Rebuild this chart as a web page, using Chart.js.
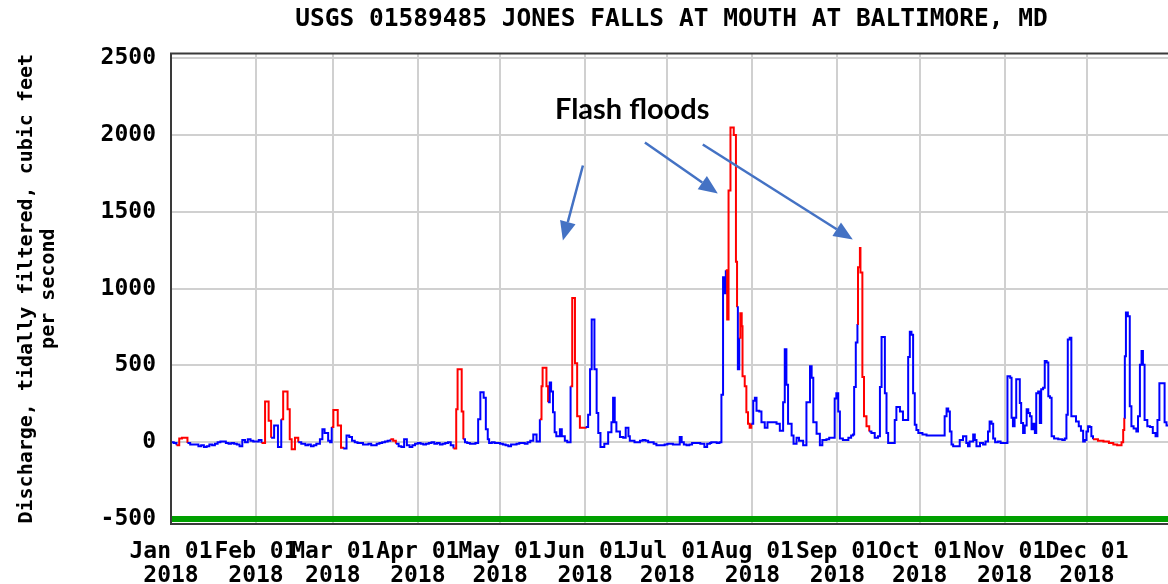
<!DOCTYPE html>
<html>
<head>
<meta charset="utf-8">
<title>Jones Falls discharge 2018</title>
<script src="https://cdn.jsdelivr.net/npm/chart.js@4.4.1/dist/chart.umd.min.js"></script>
<style>
  html, body { margin: 0; padding: 0; background: #fff; overflow: hidden; }
  #wrap { position: relative; width: 1180px; height: 584px; }
</style>
</head>
<body>
<div id="wrap"><canvas id="chart"></canvas></div>
<script>
const chartTitle = "USGS 01589485 JONES FALLS AT MOUTH AT BALTIMORE, MD";
const yTitle = ["Discharge, tidally filtered, cubic feet", "per second"];

// x ticks: first day of each month (day of year, 0 = Jan 1)
const monthStart = [0, 31, 59, 90, 120, 151, 181, 212, 243, 273, 304, 334];
const monthLabels = ["Jan", "Feb", "Mar", "Apr", "May", "Jun", "Jul", "Aug", "Sep", "Oct", "Nov", "Dec"];
const yearLabel = "2018";
const yTicks = [-500, 0, 500, 1000, 1500, 2000, 2500];

// discharge readings, day of year -> cfs (one line per month)
const days = [
  0, 1, 2, 3, 4, 5, 6, 7, 8, 9, 10, 11, 12, 13, 14, 15, 16, 17, 18, 19, 20, 21, 22, 23, 24, 25, 26, 27, 28, 29, 30,
  31, 32, 33, 34.3, 35.6, 36.5, 37.6, 39, 40.2, 40.9, 42.5, 43.3, 44, 45.2, 46.4, 47.5, 49, 50, 51, 52, 53, 54.3, 55.2, 56, 57.3, 58,
  58.6, 59.2, 60.8, 62, 62.8, 64, 65, 66, 67, 68, 69, 70, 71, 72, 73, 74, 75, 76, 77, 78, 79, 80, 81, 82, 83, 84, 85, 86, 87, 88, 89,
  90, 91, 92, 93, 94, 95, 96, 97, 98, 99, 100, 101, 102, 103, 104, 104.5, 106, 106.6, 107.2, 108, 109, 110, 111, 112, 112.8, 114, 114.8, 115.5, 116, 117, 118, 119,
  120, 121, 122, 123, 124, 125, 126, 127, 128, 129, 130, 131, 132.1, 133.3, 134.5, 135.1, 135.5, 136.9, 137.5, 138.1, 138.6, 139.3, 139.9, 140.5, 141.8, 142.5, 143.6, 144.5, 145.7, 146.3, 147.3, 148.1, 149.1,
  151.2, 152.1, 152.8, 153.4, 154.4, 155.2, 155.8, 156.6, 158, 159.4, 160.6, 161.2, 161.8, 162.4, 163.7, 164.9, 165.8, 166.8, 167.3, 169, 170, 171, 172, 173, 174, 175, 176, 177, 178, 179, 180,
  181, 182, 183, 184, 185.5, 186.2, 187, 188, 189, 190, 191, 192, 193, 194.5, 195.5, 196.5, 197, 198, 199, 200, 200.7, 201.3, 201.8, 202.3, 202.8, 203.3, 204, 205.2, 206, 206.4, 206.7, 207.2, 207.6, 208.1, 208.4, 209.2, 209.8, 210.4, 211, 211.6,
  212.3, 212.9, 213.5, 214.5, 215.3, 216.5, 217.5, 219, 220.8, 222, 223.2, 223.8, 224.4, 225, 226.3, 227, 228.1, 229, 230.5, 231.7, 233, 233.6, 234.2, 235.4, 236.6, 237.5, 239, 240, 241.4, 242, 242.6,
  243.3, 243.9, 245, 246, 247, 248, 248.7, 249.1, 249.7, 250.3, 250.5, 251.2, 251.4, 252.1, 252.7, 253.6, 254.6, 255.4, 256.6, 257.8, 258.5, 259.1, 260.3, 260.9, 261.5, 263.9, 264.5, 265.8, 266.9, 268.2, 268.8, 269.4, 270, 270.6, 271.2, 271.8, 272.5,
  273, 274, 275.5, 277, 279, 281.5, 282.1, 282.8, 283.4, 284, 284.6, 285.2, 287.6, 288.8, 290, 290.6, 291.2, 292.5, 293.1, 293.7, 295, 296.1, 297, 297.9, 298.5, 299.2, 299.8, 300.5, 301.5, 302.5,
  304, 305, 306, 306.5, 307, 307.6, 308.2, 309, 309.5, 310, 310.7, 311.3, 312, 312.6, 313.2, 313.8, 314.4, 315, 315.5, 316.2, 316.8, 317.3, 318, 318.6, 319.3, 319.9, 320.5, 321.1, 322, 323.5, 325, 325.9, 326.5, 327, 327.7, 328.3, 329, 330, 331, 331.8, 332.6, 333.2, 333.8,
  334.4, 335, 335.6, 336.2, 338, 340, 342, 343.6, 345, 346, 346.6, 347.2, 347.6, 347.8, 348.2, 348.9, 349.6, 350.2, 351, 352, 352.6, 353.3, 353.9, 354.4, 355, 356, 357, 358, 359, 359.7, 360.4, 361.5, 362.3, 363, 364, 365
];
const flow = [
  0, -5, -20, 25, 30, 30, -5, -15, -15, -15, -25, -20, -30, -25, -15, -20, -10, 0, 5, 5, -5, -10, -5, -10, -15, -25, 15, 0, 20, 10, 5,
  5, 15, -5, 265, 140, 30, 110, -30, 150, 330, 215, 20, -45, 30, 0, -10, -20, -15, -25, -20, -10, 20, 85, 60, 10, 0,
  100, 210, 110, -35, -40, 45, 35, 10, 0, -5, -5, -15, -15, -10, -20, -20, -10, -5, 0, 5, 10, 20, 10, -10, -25, -30, 20, -20, -30, -20, -10,
  -5, -10, -15, -10, -5, 0, -10, -5, -15, -10, -5, 0, -20, -40, 215, 475, 200, 20, 0, -5, -10, -10, -5, 150, 325, 290, 85, 20, -5, 0, -5, -5,
  -10, -15, -20, -25, -15, -15, -10, -5, -5, -10, 0, 10, 50, 5, 150, 365, 485, 365, 260, 390, 330, 195, 65, 40, 85, 40, 10, 0, 365, 940, 515, 170, 95,
  100, 180, 475, 800, 475, 190, 60, -30, -10, 65, 130, 290, 130, 70, 35, 30, 95, 40, 10, 0, 0, 10, 15, 10, 0, 0, -10, -20, -20, -20, -15,
  -10, -10, -15, -15, 35, 0, -15, -20, -15, -5, -5, -5, -10, -30, -10, -5, 0, 0, -5, 0, 310, 1075, 970, 1120, 800, 1640, 2050, 2000, 1175, 880, 475, 680, 840, 755, 430, 365, 195, 120, 95, 120,
  270, 290, 205, 200, 130, 95, 130, 130, 120, 75, 260, 605, 375, 120, 45, -10, 30, 10, -20, 260, 495, 420, 130, 55, -20, 15, 20, 30, 30, 285, 320,
  200, 25, 15, 15, 30, 45, 50, 360, 650, 770, 1140, 1265, 1105, 425, 170, 105, 70, 60, 30, 40, 360, 685, 320, 60, -5, 145, 230, 200, 145, 145, 555, 720, 700, 320, 115, 80, 60,
  60, 50, 45, 45, 45, 45, 170, 220, 200, 70, -15, -25, 15, 40, -5, -25, 5, 50, 15, -25, -5, -15, 5, 70, 135, 120, 25, 0, 5, -5,
  -5, 430, 420, 160, 105, 160, 410, 410, 255, 125, 60, 110, 215, 190, 170, 85, 120, 60, 320, 330, 125, 345, 355, 530, 520, 300, 290, 40, 25, 20, 15, 25, 180, 670, 680, 170, 170, 135, 105, 75, 5, 15, 70,
  105, 100, 40, 20, 10, 5, -5, -15, -20, -20, 0, 80, 160, 560, 845, 820, 235, 105, 90, 70, 170, 505, 595, 505, 145, 105, 100, 60, 40, 145, 385, 385, 130, 110, 100, 100
];
if (days.length !== flow.length) console.error("length mismatch", days.length, flow.length);

// stretches drawn in red (estimated / provisional), in days
const redSpans = [[2, 6], [33, 36.5], [40.2, 46.4], [58.6, 62.8], [80, 82], [103, 106.6],
  [134.5, 137.5], [145.7, 151.2], [202.3, 206.4], [207.2, 211.6], [250.3, 254.6], [336.2, 347.6]];

const floorLevel = -500;

// callout
const calloutText = "Flash floods";
const calloutAt = [140, 2108];
const arrowFrom = [[150.2, 1802], [172.8, 1952], [193.9, 1939]];
const arrowTo = [[142.9, 1314], [199.4, 1620], [248.6, 1321]];

const BLUE = "#0000ff";
const RED = "#ff0000";
const monoFont = '"DejaVu Sans Mono", "Liberation Mono", monospace';

function isRed(d) {
  return redSpans.some(s => d >= s[0] && d < s[1]);
}

const frame = {
  id: "frame",
  afterDatasetsDraw(chart) {
    const { ctx, chartArea: a } = chart;
    ctx.save();
    ctx.strokeStyle = "#3a3a3a";
    ctx.lineWidth = 2;
    ctx.beginPath();
    ctx.moveTo(a.right + 5, a.top);
    ctx.lineTo(a.left, a.top);
    ctx.lineTo(a.left, a.bottom);
    ctx.lineTo(a.right + 5, a.bottom);
    ctx.stroke();
    ctx.restore();
  }
};

const callouts = {
  id: "callouts",
  afterDraw(chart) {
    const { ctx, scales: { x, y } } = chart;
    ctx.save();
    ctx.fillStyle = "#000";
    ctx.font = 'bold 29px Lato, "Open Sans", sans-serif';
    ctx.textBaseline = "alphabetic";
    ctx.fillText(calloutText, x.getPixelForValue(calloutAt[0]), y.getPixelForValue(calloutAt[1]));

    ctx.strokeStyle = "#4472c4";
    ctx.fillStyle = "#4472c4";
    ctx.lineWidth = 2.5;
    arrowFrom.forEach((p, i) => {
      const x0 = x.getPixelForValue(p[0]), y0 = y.getPixelForValue(p[1]);
      const x1 = x.getPixelForValue(arrowTo[i][0]), y1 = y.getPixelForValue(arrowTo[i][1]);
      const ang = Math.atan2(y1 - y0, x1 - x0);
      const len = 19, half = 8;
      const bx = x1 - len * Math.cos(ang), by = y1 - len * Math.sin(ang);
      ctx.beginPath();
      ctx.moveTo(x0, y0);
      ctx.lineTo(bx, by);
      ctx.stroke();
      ctx.beginPath();
      ctx.moveTo(x1, y1);
      ctx.lineTo(bx + half * Math.sin(ang), by - half * Math.cos(ang));
      ctx.lineTo(bx - half * Math.sin(ang), by + half * Math.cos(ang));
      ctx.closePath();
      ctx.fill();
    });
    ctx.restore();
  }
};

new Chart(document.getElementById("chart"), {
  type: "line",
  data: {
    datasets: [
      {
        label: "Discharge",
        data: days.map((d, i) => ({ x: d, y: flow[i] })),
        stepped: true,
        borderWidth: 2,
        borderColor: BLUE,
        pointRadius: 0,
        segment: {
          borderColor: ctx => isRed(days[ctx.p0DataIndex]) ? RED : BLUE
        },
        order: 1
      },
      {
        label: "floor",
        data: [{ x: 0, y: floorLevel }, { x: 365, y: floorLevel }],
        borderColor: "#00a000",
        borderWidth: 6,
        pointRadius: 0,
        order: 2
      }
    ]
  },
  options: {
    responsive: true,
    maintainAspectRatio: false,
    animation: false,
    layout: { padding: { left: 0, right: 8, top: 0, bottom: 0 } },
    plugins: {
      legend: { display: false },
      tooltip: { enabled: false },
      title: {
        display: true,
        text: chartTitle,
        fullSize: false,
        color: "#000",
        font: { family: monoFont, size: 24.5, weight: "bold", lineHeight: 1.2 },
        padding: { top: 5, bottom: 19 }
      }
    },
    scales: {
      x: {
        type: "linear",
        min: 0,
        max: 365,
        afterBuildTicks: s => { s.ticks = monthStart.map(v => ({ value: v })); },
        afterFit: s => { s.height = 60; },
        border: { display: false },
        grid: { color: "#d0d0d0", lineWidth: 2, drawTicks: false },
        ticks: {
          autoSkip: false,
          maxRotation: 0,
          minRotation: 0,
          padding: 16,
          color: "#000",
          font: { family: monoFont, size: 23, weight: "bold", lineHeight: 1.05 },
          callback: v => {
            const i = monthStart.indexOf(v);
            return i < 0 ? "" : [monthLabels[i] + " 01", yearLabel];
          }
        }
      },
      y: {
        min: -532,
        max: 2532,
        afterBuildTicks: s => { s.ticks = yTicks.map(v => ({ value: v })); },
        afterFit: s => { s.width = 171; },
        border: { display: false },
        grid: { color: "#d0d0d0", lineWidth: 2, drawTicks: false },
        ticks: {
          padding: 15,
          color: "#000",
          font: { family: monoFont, size: 23, weight: "bold" },
          callback: v => String(v)
        },
        title: {
          display: true,
          text: yTitle,
          color: "#000",
          font: { family: monoFont, size: 20, weight: "bold", lineHeight: 1.1 },
          padding: { top: 16, bottom: 0 }
        }
      }
    }
  },
  plugins: [frame, callouts]
});
</script>
</body>
</html>
